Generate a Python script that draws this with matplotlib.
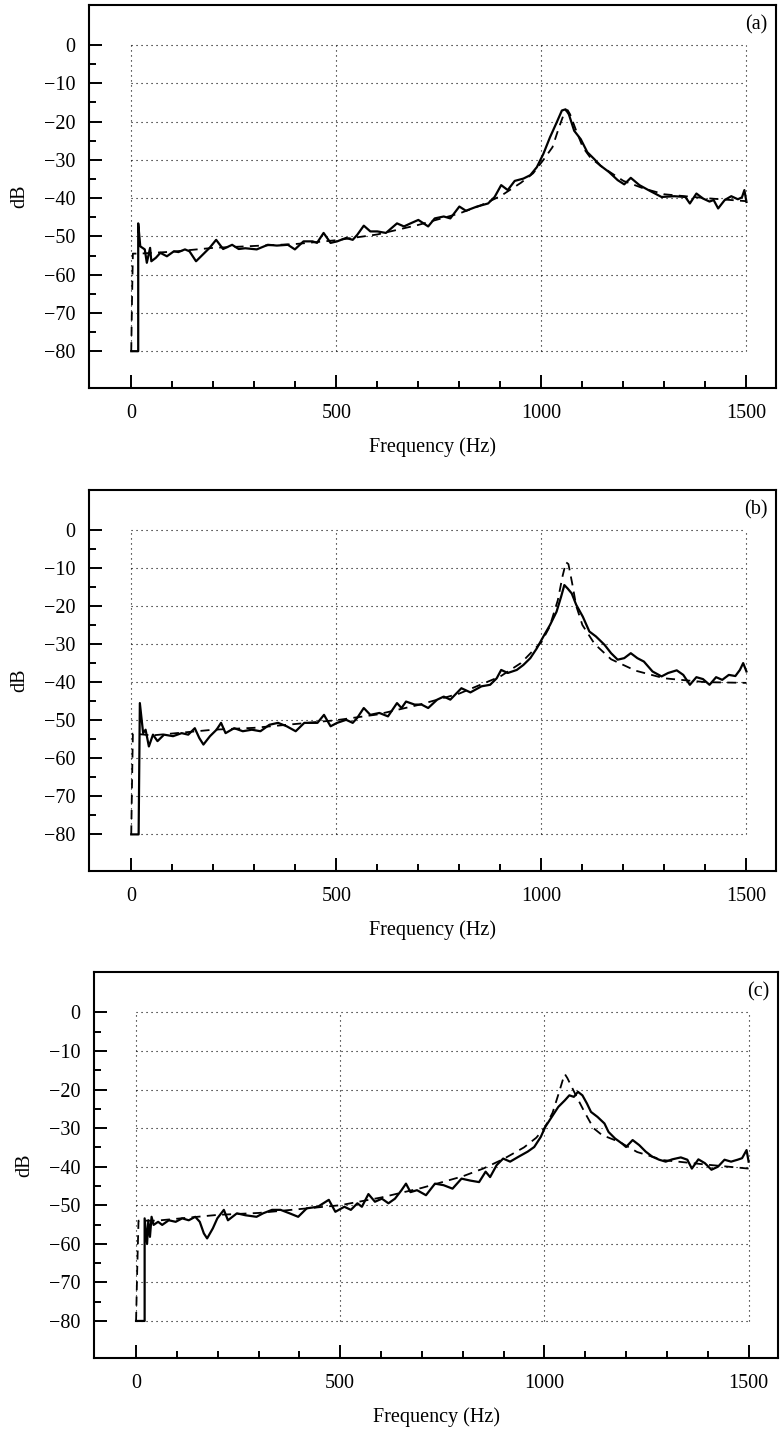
import matplotlib
matplotlib.use('Agg')
import matplotlib.pyplot as plt
from matplotlib.ticker import FixedLocator

plt.rcParams['font.family'] = ['Liberation Serif', 'DejaVu Serif']
plt.rcParams['font.size'] = 14.5

# (a) measured (solid) and model (dashed)
a_meas_f = [0, 17, 17, 22, 33, 38, 46, 49, 60, 71, 87, 104, 115, 131, 142, 158, 175, 191, 207, 224,
            246, 262, 278, 306, 333, 355, 382, 399, 420, 442, 453, 469, 486, 502, 524, 540, 551, 567,
            583, 600, 621, 648, 665, 681, 700, 724, 740, 762, 778, 800, 816, 843, 870, 886, 902, 918,
            935, 956, 973, 989, 1005, 1021, 1037, 1050, 1059, 1067, 1080, 1096, 1112, 1128, 1144, 1165,
            1186, 1202, 1218, 1239, 1261, 1293, 1324, 1351, 1362, 1378, 1394, 1410, 1420, 1431, 1447,
            1463, 1479, 1489, 1495, 1500]
a_meas_db = [-80, -80, -46.6, -52.6, -53.4, -56.9, -53.0, -56.5, -55.6, -54.3, -55.2, -53.9, -54.1,
             -53.4, -53.9, -56.5, -54.7, -53.0, -50.9, -53.3, -52.2, -53.3, -53.1, -53.4, -52.2, -52.4,
             -52.2, -53.4, -51.3, -51.3, -51.7, -49.1, -51.7, -51.3, -50.4, -50.9, -49.6, -47.2, -48.7,
             -48.7, -49.1, -46.6, -47.4, -46.6, -45.7, -47.4, -45.3, -44.8, -45.3, -42.2, -43.3, -42.2,
             -41.4, -39.7, -36.6, -37.9, -35.5, -34.9, -34.0, -31.9, -28.4, -24.1, -20.3, -17.1, -16.8,
             -18.1, -22.4, -24.6, -28.0, -29.7, -31.5, -33.2, -35.3, -36.4, -34.7, -36.6, -37.9, -39.7,
             -39.5, -39.7, -41.4, -38.8, -40.1, -40.9, -40.5, -42.7, -40.5, -39.5, -40.3, -39.8, -37.9,
             -41.0]
a_model_f = [0, 2, 4, 20, 100, 200, 300, 400, 500, 600, 700, 800, 850, 900, 950, 980, 1005, 1027,
             1043, 1057, 1064, 1070, 1085, 1101, 1120, 1150, 1200, 1250, 1300, 1400, 1500]
a_model_db = [-80, -66, -54.5, -54.5, -54, -53, -52.5, -52, -51, -49.5, -47, -44, -42, -39.5, -36,
              -33.5, -30, -26.7, -21.5, -17.4, -17, -18.1, -22.4, -26.7, -29.5, -32, -35.5, -37.5,
              -39, -40, -40.8]

# (b)
b_meas_f = [0, 18, 21, 29, 35, 43, 53, 64, 80, 102, 123, 139, 155, 166, 176, 192, 208, 219, 230, 251,
            272, 294, 315, 337, 358, 379, 401, 422, 443, 454, 470, 486, 502, 524, 540, 551, 567, 583,
            605, 626, 648, 659, 670, 691, 708, 724, 746, 762, 778, 805, 827, 854, 875, 891, 902, 918,
            940, 956, 973, 989, 1005, 1021, 1037, 1048, 1056, 1064, 1074, 1085, 1101, 1117, 1133, 1154,
            1170, 1186, 1202, 1218, 1234, 1250, 1271, 1293, 1309, 1330, 1346, 1362, 1378, 1394, 1410,
            1426, 1441, 1457, 1473, 1484, 1492, 1500]
b_meas_db = [-80, -80, -45.5, -53.4, -52.5, -56.9, -53.8, -55.5, -53.8, -54.2, -53.4, -53.8, -52.1,
             -54.7, -56.4, -54.2, -52.5, -50.7, -53.4, -52.1, -52.9, -52.5, -52.9, -51.2, -50.7, -51.6,
             -52.9, -50.7, -50.7, -50.7, -48.6, -51.6, -50.7, -49.9, -50.7, -49.4, -46.8, -48.6, -48.1,
             -49.0, -45.5, -46.8, -45.1, -45.9, -45.9, -46.8, -44.6, -43.8, -44.6, -41.6, -42.7, -41.1,
             -40.7, -39.0, -36.8, -37.6, -36.8, -35.5, -33.7, -31.1, -28.0, -25.0, -21.5, -17.6, -14.5,
             -15.4, -16.7, -19.7, -22.8, -26.7, -28.0, -30.2, -32.4, -34.1, -33.7, -32.4, -33.7, -34.6,
             -37.2, -38.5, -37.6, -36.9, -38.1, -40.7, -38.7, -39.2, -40.7, -38.7, -39.4, -38.1, -38.4,
             -36.8, -35.0, -37.2]
b_model_f = [0, 2, 4, 50, 100, 200, 300, 400, 500, 600, 700, 800, 900, 950, 1000, 1020, 1040, 1052,
             1060, 1066, 1075, 1085, 1100, 1130, 1170, 1230, 1300, 1400, 1500]
b_model_db = [-80, -66, -53.5, -54, -53.5, -52.5, -52, -51, -50, -48.5, -46, -43, -38.5, -35, -29.5,
              -25.5, -18.5, -12, -8.5, -9, -14, -20, -25, -30, -34, -37, -39, -40, -40.2]

# (c)
c_meas_f = [0, 21, 21, 27, 30, 34, 38, 43, 54, 64, 80, 97, 113, 129, 145, 156, 166, 174, 188, 199,
            215, 225, 247, 268, 295, 311, 333, 354, 376, 397, 418, 445, 472, 488, 510, 526, 542, 553,
            569, 585, 602, 618, 634, 650, 661, 672, 688, 710, 732, 753, 775, 797, 818, 840, 856, 867,
            883, 899, 916, 937, 959, 975, 991, 1002, 1018, 1034, 1050, 1061, 1072, 1082, 1093, 1104,
            1114, 1130, 1147, 1157, 1173, 1190, 1200, 1216, 1232, 1248, 1264, 1281, 1297, 1313, 1334,
            1350, 1361, 1377, 1393, 1409, 1425, 1441, 1457, 1473, 1484, 1495, 1500]
c_meas_db = [-80, -80, -53.4, -60.0, -53.9, -58.2, -53.0, -55.1, -54.3, -55.1, -53.9, -54.3, -53.4,
             -53.9, -53.0, -54.3, -57.3, -58.6, -56.0, -53.4, -51.2, -53.9, -52.1, -52.6, -53.0, -52.1,
             -51.2, -51.2, -52.1, -53.0, -50.8, -50.4, -48.6, -51.7, -50.4, -51.2, -49.5, -50.4, -47.1,
             -49.1, -48.3, -49.5, -48.3, -46.1, -44.4, -46.6, -46.1, -47.4, -44.4, -44.8, -45.7, -43.1,
             -43.6, -44.0, -41.3, -42.7, -39.6, -37.9, -38.7, -37.4, -36.1, -34.9, -32.3, -29.7, -27.1,
             -24.5, -22.8, -21.5, -21.9, -20.6, -21.5, -23.6, -25.8, -27.1, -28.8, -31.0, -32.7, -34.0,
             -34.9, -33.1, -34.4, -36.1, -37.4, -38.2, -38.7, -38.1, -37.6, -38.2, -40.5, -38.1, -39.1,
             -40.8, -40.0, -38.2, -38.7, -38.2, -37.8, -35.7, -38.7]
c_model_f = [0, 3, 6, 50, 100, 200, 300, 400, 500, 600, 700, 800, 850, 900, 950, 980, 1000, 1020,
             1035, 1045, 1050, 1056, 1077, 1098, 1120, 1141, 1184, 1227, 1291, 1400, 1500]
c_model_db = [-80, -66, -54, -54, -53.5, -52.5, -52, -51, -50, -48, -45.5, -42.5, -40.5, -38, -35,
              -32.5, -30, -26, -21, -17.5, -16, -17, -21.5, -25.8, -30, -31.8, -33.6, -36.2, -38.3,
              -39.5, -40.5]

panel_tags = ['(a)', '(b)', '(c)']
db_grid = [0, -10, -20, -30, -40, -50, -60, -70, -80]
hz_grid = [0, 500, 1000, 1500]


def style_panel(ax, tag):
    ax.hlines(db_grid, 0, 1500, colors='black', linestyles=(0, (1, 3.5)), linewidth=0.8, zorder=1)
    ax.vlines(hz_grid, -80, 0, colors='black', linestyles=(0, (1, 3.5)), linewidth=0.8, zorder=1)
    ax.set_xlim(-103, 1572)
    ax.set_ylim(-89.6, 10.5)
    ax.xaxis.set_major_locator(FixedLocator(hz_grid))
    ax.xaxis.set_minor_locator(FixedLocator(range(100, 1500, 100)))
    ax.yaxis.set_major_locator(FixedLocator(db_grid))
    ax.yaxis.set_minor_locator(FixedLocator(range(-75, 0, 10)))
    ax.tick_params(which='both', direction='in', width=1.4, top=False, right=False)
    ax.tick_params(which='major', length=9.5, labelsize=14.5)
    ax.tick_params(axis='x', which='major', pad=11.5)
    ax.tick_params(axis='y', which='major', pad=10)
    ax.tick_params(which='minor', length=5)
    for sp in ax.spines.values():
        sp.set_linewidth(1.5)
    ax.set_xlabel('Frequency (Hz)', fontsize=14.5, labelpad=10)
    ax.set_ylabel('dB', fontsize=14.5, labelpad=10)
    ax.text(0.971, 0.948, tag, transform=ax.transAxes, ha='center', va='center', fontsize=14.5)


fig = plt.figure(figsize=(7.82, 14.32), dpi=100)
ax1 = fig.add_axes([0.1138, 0.7291, 0.8785, 0.2675])
ax2 = fig.add_axes([0.1138, 0.3918, 0.8785, 0.2661])
ax3 = fig.add_axes([0.1202, 0.0517, 0.8747, 0.2696])

ax1.plot(a_model_f, a_model_db, color='black', linestyle=(0, (5, 3.5)), linewidth=1.3)
ax1.plot(a_meas_f, a_meas_db, color='black', linewidth=1.6)
ax2.plot(b_model_f, b_model_db, color='black', linestyle=(0, (5, 3.5)), linewidth=1.3)
ax2.plot(b_meas_f, b_meas_db, color='black', linewidth=1.6)
ax3.plot(c_model_f, c_model_db, color='black', linestyle=(0, (5, 3.5)), linewidth=1.3)
ax3.plot(c_meas_f, c_meas_db, color='black', linewidth=1.6)

for ax, tag in zip([ax1, ax2, ax3], panel_tags):
    style_panel(ax, tag)

plt.savefig('out.png', dpi=100)
